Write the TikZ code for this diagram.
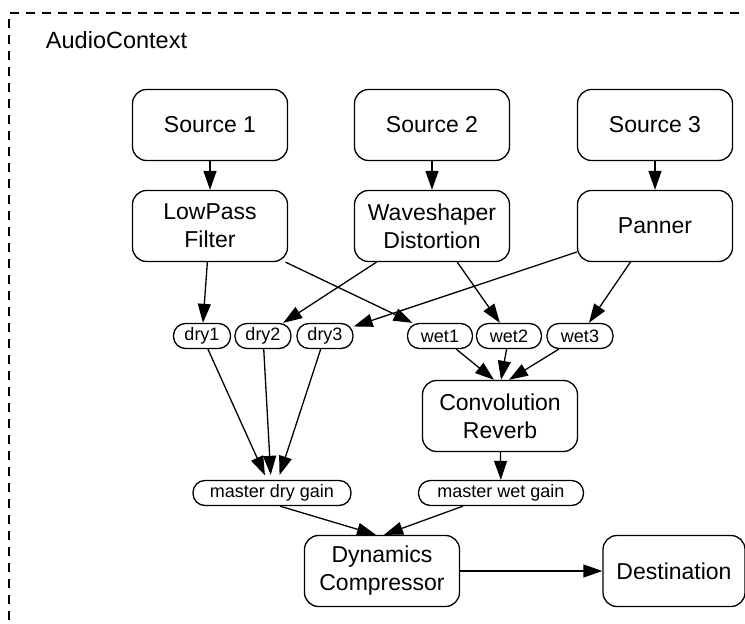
\documentclass[tikz,border=0pt]{standalone}
\usepackage{fontspec}
\setmainfont{Liberation Sans}
\usetikzlibrary{arrows.meta,positioning}

\begin{document}
\begin{tikzpicture}[x=1pt, y=1pt, node distance=101pt, line width=1.3pt,
  link/.style = {-{Triangle[length=19pt,width=13pt]}},
  block/.style = {draw, rounded corners=14pt, minimum width=155pt, minimum height=71pt, align=center, font=\fontsize{23}{28}\selectfont},
  gain/.style = {draw, rounded corners=12pt, minimum height=25pt, inner xsep=2pt, inner ysep=0pt, font=\fontsize{18}{20}\selectfont}]
\useasboundingbox (0,0) rectangle (745,624);
\clip (0,0) rectangle (745,624);
% audio context frame
\draw[dash pattern=on 9pt off 7pt] (9,-60) |- (900,611);
\node[anchor=west, font=\fontsize{23.5}{28}\selectfont] (ctx) at (42,584) {AudioContext};
% sources and their effects
\node[block] (s1) at (210,499) {Source 1};
\node[block] (s2) [right of=s1, node distance=222pt] {Source 2};
\node[block] (s3) [right of=s2, node distance=223pt] {Source 3};
\node[block] (lp) [below of=s1] {LowPass\\Filter};
\node[block] (ws) [below of=s2] {Waveshaper\\Distortion};
\node[block] (pan) [below of=s3] {Panner};
% dry and wet sends
\node[gain, minimum width=57pt] (dry1) at (202,288) {dry1};
\node[gain, minimum width=56pt] (dry2) at (263,288) {dry2};
\node[gain, minimum width=56pt] (dry3) at (325,288) {dry3};
\node[gain, minimum width=65pt] (wet1) at (440,288) {wet1};
\node[gain, minimum width=65pt] (wet2) at (509,288) {wet2};
\node[gain, minimum width=66pt] (wet3) at (580,288) {wet3};
\node[block] (rev) at (500,208) {Convolution\\Reverb};
\node[gain, minimum width=158pt] (mdg) at (272,131) {master dry gain};
\node[gain, minimum width=165pt] (mwg) at (501,131) {master wet gain};
\node[block] (comp) at (382,53) {Dynamics\\Compressor};
\node[block, minimum width=142pt] (dest) at (674,53) {Destination};
\draw[link] (s1) -- (lp);
\draw[link] (s2) -- (ws);
\draw[link] (s3) -- (pan);
\draw[link] (lp) -- (dry1);
\draw[link] (lp) -- (wet1);
\draw[link] (ws) -- (dry2);
\draw[link] (ws) -- (wet2);
\draw[link] (pan) -- (dry3);
\draw[link] (pan) -- (wet3);
\draw[link, shorten >=5pt] (dry1) -- ([xshift=-5pt]mdg.north);
\draw[link, shorten >=5pt] (dry2) -- ([xshift=-1pt]mdg.north);
\draw[link, shorten >=5pt] (dry3) -- ([xshift=6pt]mdg.north);
\draw[link] (wet1) -- ([xshift=-6pt]rev.north);
\draw[link] (wet2) -- ([xshift=1pt]rev.north);
\draw[link] (wet3) -- ([xshift=9pt]rev.north);
\draw[link] (rev) -- (mwg);
\draw[link] ([xshift=8pt]mdg.south) -- ([xshift=-6pt]comp.north);
\draw[link] ([xshift=-38pt]mwg.south) -- ([xshift=2pt]comp.north);
\draw[link] (comp) -- (dest);
\end{tikzpicture}
\end{document}
